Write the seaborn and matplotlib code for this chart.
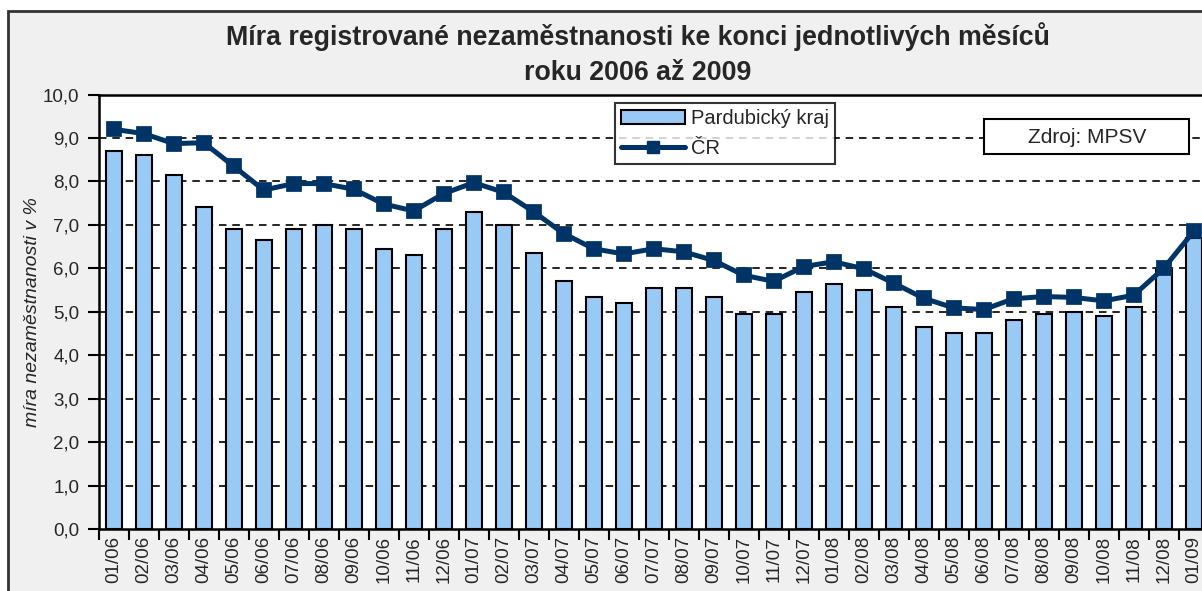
import numpy as np
import pandas as pd
import matplotlib
matplotlib.use("Agg")
import matplotlib.pyplot as plt
import seaborn as sns
from matplotlib.patches import Patch, Rectangle
from matplotlib.lines import Line2D
from matplotlib.ticker import FuncFormatter

# data
months = ["01/06", "02/06", "03/06", "04/06", "05/06", "06/06", "07/06", "08/06",
          "09/06", "10/06", "11/06", "12/06", "01/07", "02/07", "03/07", "04/07",
          "05/07", "06/07", "07/07", "08/07", "09/07", "10/07", "11/07", "12/07",
          "01/08", "02/08", "03/08", "04/08", "05/08", "06/08", "07/08", "08/08",
          "09/08", "10/08", "11/08", "12/08", "01/09"]
pardubicky = [8.7, 8.6, 8.15, 7.4, 6.9, 6.65, 6.9, 7.0, 6.9, 6.45, 6.3, 6.9,
              7.3, 7.0, 6.35, 5.7, 5.35, 5.2, 5.55, 5.55, 5.35, 4.95, 4.95, 5.45,
              5.65, 5.5, 5.1, 4.65, 4.5, 4.5, 4.8, 4.95, 5.0, 4.9, 5.1, 5.95,
              6.7]
cr = [9.2, 9.1, 8.87, 8.89, 8.35, 7.8, 7.95, 7.95, 7.82, 7.48, 7.32, 7.72,
      7.97, 7.75, 7.3, 6.8, 6.45, 6.33, 6.45, 6.38, 6.18, 5.84, 5.7, 6.04,
      6.15, 5.99, 5.66, 5.31, 5.09, 5.05, 5.3, 5.35, 5.33, 5.25, 5.38, 6.0,
      6.85]
y_ticks = np.arange(0, 11, 1)

bar_color = "#99c9f5"
line_color = "#003366"

sns.set_theme(style="white")
plt.rcParams["font.family"] = ["Liberation Sans", "DejaVu Sans"]

W, H = 1202, 591
fig = plt.figure(figsize=(W / 100, H / 100), dpi=100)
fig.patch.set_facecolor("white")

# grey chart area with its frame
fig.patches.append(Rectangle((8 / W, -0.1), 1.2, (H - 11) / H + 0.1,
                             transform=fig.transFigure, facecolor="#f0f0f0",
                             edgecolor="#333333", lw=2, zorder=-10))

# plot area in pixels: left 98.7, right 1208.7 (clipped), top 94.5, bottom 529
ax = fig.add_axes([98.7 / W, (H - 529) / H, 1110 / W, (529 - 94.5) / H])
ax.set_facecolor("white")

df = pd.DataFrame({"month": months, "pardubicky": pardubicky, "cr": cr})
sns.barplot(data=df, x="month", y="pardubicky", color=bar_color, saturation=1,
            width=0.54, edgecolor="black", linewidth=1.5, ax=ax, zorder=2)
sns.pointplot(data=df, x="month", y="cr", color=line_color, markers="s",
              markersize=9, linewidth=3.6, ax=ax, zorder=3)

ax.set_xlim(-0.5, len(months) - 0.5)
ax.set_ylim(0, 10)
ax.set_yticks(y_ticks)
ax.yaxis.set_major_formatter(FuncFormatter(lambda v, p: f"{v:.1f}".replace(".", ",")))
for v in y_ticks[1:]:
    ax.axhline(v, color="black", lw=1.2, ls=(0, (4.5, 3.5)), zorder=1)

# tick marks on category boundaries, labels on centres
ax.set_xticks(np.arange(-0.5, len(months), 1))
ax.set_xticklabels([])
ax.set_xticks(np.arange(len(months)), minor=True)
ax.set_xticklabels(months, minor=True, rotation=90, fontsize=13.5)
ax.tick_params(axis="x", which="major", length=8, width=1.5, direction="out",
               bottom=True, color="black")
ax.tick_params(axis="x", which="minor", length=0, pad=5)
ax.tick_params(axis="y", length=8, width=1.5, direction="out", left=True,
               labelsize=13.5, pad=6, color="black")
ax.set_xlabel("")
ax.set_ylabel("míra nezaměstnanosti v %", fontsize=14, style="italic",
              labelpad=1)
for s in ax.spines.values():
    s.set_color("black")
    s.set_linewidth(1.8)

# title
fig.text(638 / W, 1 - 45 / H,
         "Míra registrované nezaměstnanosti ke konci jednotlivých měsíců",
         ha="center", va="baseline", fontsize=19.3, fontweight="bold")
fig.text(638 / W, 1 - 80 / H, "roku 2006 až 2009",
         ha="center", va="baseline", fontsize=19.3, fontweight="bold")

# legend
handles = [Patch(facecolor=bar_color, edgecolor="black", lw=1.5),
           Line2D([], [], color=line_color, lw=3.6, marker="s", markersize=9)]
leg = fig.legend(handles, ["Pardubický kraj", "ČR"], loc="upper left",
                 bbox_to_anchor=(615 / W, 1 - 103 / H), borderaxespad=0,
                 fancybox=False, frameon=True, edgecolor="black",
                 fontsize=14.5, handlelength=3.2, handletextpad=0.25,
                 labelspacing=0.55, borderpad=0.3)
leg.get_frame().set_linewidth(1.5)

# source box
fig.patches.append(Rectangle((984 / W, 1 - 154 / H), 205 / W, 35 / H,
                             transform=fig.transFigure, facecolor="white",
                             edgecolor="black", lw=1.5, zorder=5))
fig.text(1087 / W, 1 - 137 / H, "Zdroj: MPSV", ha="center", va="center",
         fontsize=15, zorder=6)

fig.savefig("out.png", dpi=100)
